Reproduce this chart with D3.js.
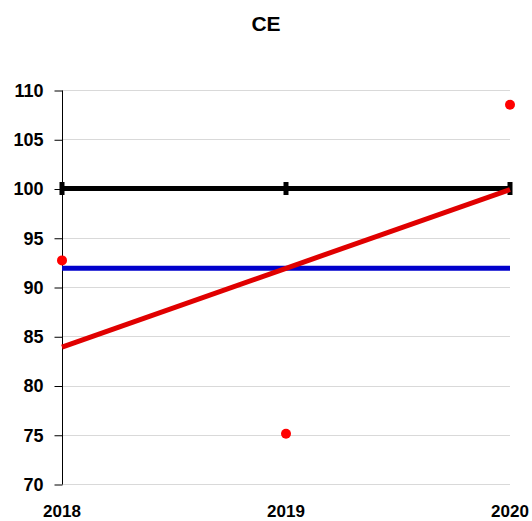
<!DOCTYPE html>
<html><head><meta charset="utf-8">
<script src="https://cdn.jsdelivr.net/npm/d3@7"></script>
<style>
html,body{margin:0;padding:0;background:#fff;}
svg{display:block;font-family:"Liberation Sans",Arial,sans-serif;}
</style></head>
<body>
<svg id="chart" width="532" height="521"></svg>
<script>
const title = "CE";
const years = ["2018", "2019", "2020"];
const observed = [92.7, 75.1, 108.5];
const target = [100, 100, 100];
const average = [91.9, 91.9, 91.9];
const trend = [83.9, 91.9, 99.9];
const yTicks = [70, 75, 80, 85, 90, 95, 100, 105, 110];

const svg = d3.select("#chart");
const x = d3.scalePoint().domain(years).range([62, 510]);
const y = d3.scaleLinear().domain([70, 110]).range([484, 90]);

// title
svg.append("text").attr("x", 266).attr("y", 31).attr("text-anchor", "middle")
  .attr("font-weight", "bold").attr("font-size", 21).attr("fill", "#000").text(title);

// gridlines
svg.append("g").selectAll("line").data(yTicks).join("line")
  .attr("x1", x.range()[0]).attr("x2", x.range()[1])
  .attr("y1", d => Math.round(y(d)) + 0.5).attr("y2", d => Math.round(y(d)) + 0.5)
  .attr("stroke", "#d9d9d9").attr("stroke-width", 1);

// y axis
const yAxis = d3.axisLeft(y).tickValues(yTicks).tickSize(8).tickPadding(11);
const gy = svg.append("g").attr("transform", `translate(${x.range()[0] + 0.5},0.5)`).call(yAxis);
gy.select(".domain").attr("stroke", "#000").attr("d", `M-0,${y(110)}V${y(70)}`);
gy.selectAll(".tick line").attr("stroke", "#000");
gy.selectAll(".tick text").attr("font-size", 18).attr("font-weight", "bold")
  .attr("fill", "#000").attr("font-family", "Liberation Sans, Arial, sans-serif");

// x labels
svg.append("g").selectAll("text").data(years).join("text")
  .attr("x", d => x(d)).attr("y", 517).attr("text-anchor", "middle")
  .attr("font-size", 17).attr("font-weight", "bold").attr("fill", "#000").text(d => d);

const line = d3.line().x((d, i) => x(years[i])).y(d => y(d));

// average (blue)
svg.append("path").datum(average).attr("d", line)
  .attr("fill", "none").attr("stroke", "#0000cc").attr("stroke-width", 5);

// target (black) with dash markers
svg.append("path").datum(target).attr("d", line)
  .attr("fill", "none").attr("stroke", "#000").attr("stroke-width", 5);
svg.append("g").selectAll("rect").data(target).join("rect")
  .attr("x", (d, i) => x(years[i]) - 2.5).attr("y", d => y(d) - 6.5)
  .attr("width", 5).attr("height", 13).attr("fill", "#000");

// trend (red)
svg.append("path").datum(trend).attr("d", line)
  .attr("fill", "none").attr("stroke", "#e00000").attr("stroke-width", 5);

// observed points
svg.append("g").selectAll("circle").data(observed).join("circle")
  .attr("cx", (d, i) => x(years[i])).attr("cy", d => y(d)).attr("r", 5)
  .attr("fill", "#ff0000");
</script>
</body></html>
